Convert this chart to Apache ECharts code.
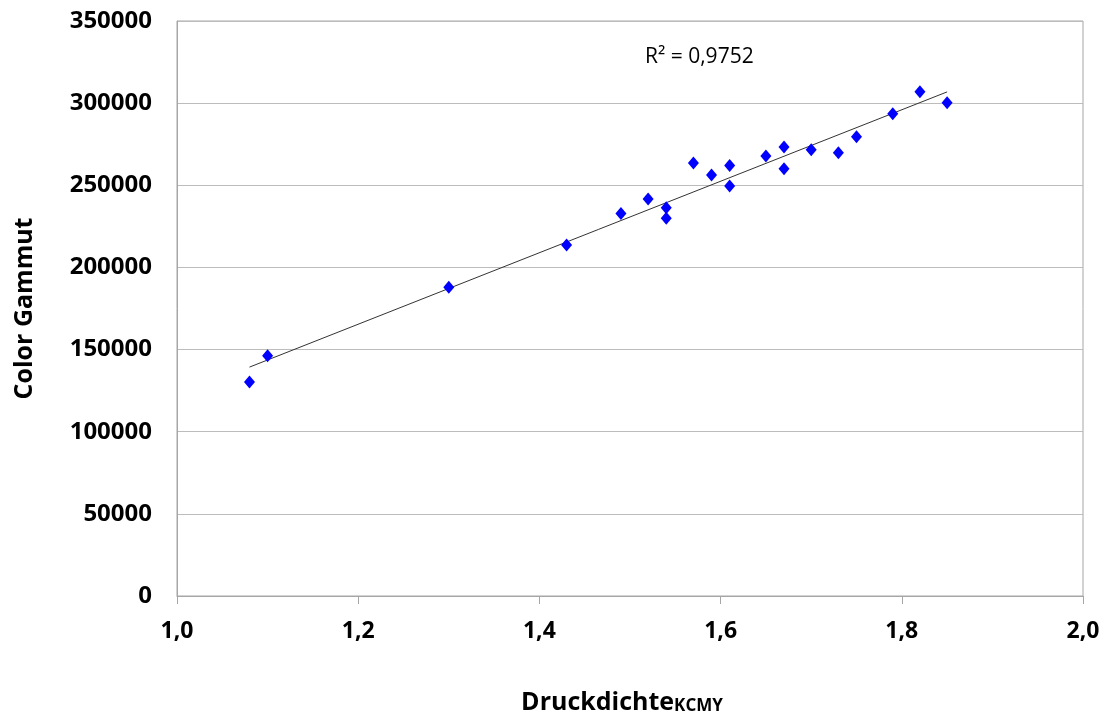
<!DOCTYPE html>
<html>
<head>
<meta charset="utf-8">
<script src="https://cdn.jsdelivr.net/npm/echarts@6/dist/echarts.min.js"></script>
<style>
html,body{margin:0;padding:0;background:#fff;}
#chart{width:1107px;height:720px;}
</style>
</head>
<body>
<div id="chart"></div>
<script>
// Data
const druckdichte = [1.08, 1.10, 1.30, 1.43, 1.49, 1.52, 1.54, 1.54, 1.57, 1.59, 1.61, 1.61, 1.65, 1.67, 1.67, 1.70, 1.73, 1.75, 1.79, 1.82, 1.85];
const colorGammut = [130200, 146300, 187900, 213700, 232900, 241700, 236400, 229900, 263500, 256200, 262100, 249600, 267800, 273300, 260100, 271600, 269800, 279500, 293500, 307000, 300200];
const xTicks = {min: 1.0, max: 2.0, interval: 0.2};
const yTicks = {min: 0, max: 350000, interval: 50000};
const r2Label = 'R² = 0,9752';
const xTitle = 'Druckdichte';
const xTitleSub = 'KCMY';
const yTitle = 'Color Gammut';

const points = druckdichte.map((x, i) => [x, colorGammut[i]]);

// Linear least-squares trend line from the data
const n = druckdichte.length;
const mx = druckdichte.reduce((a, b) => a + b, 0) / n;
const my = colorGammut.reduce((a, b) => a + b, 0) / n;
let sxy = 0, sxx = 0;
for (let i = 0; i < n; i++) {
  sxy += (druckdichte[i] - mx) * (colorGammut[i] - my);
  sxx += (druckdichte[i] - mx) * (druckdichte[i] - mx);
}
const slope = sxy / sxx;
const intercept = my - slope * mx;
const xMin = Math.min(...druckdichte), xMax = Math.max(...druckdichte);
const trend = [[xMin, intercept + slope * xMin], [xMax, intercept + slope * xMax]];

const FONT = '"Open Sans", "DejaVu Sans", sans-serif';

const chart = echarts.init(document.getElementById('chart'), null, {renderer: 'canvas'});
chart.setOption({
  animation: false,
  backgroundColor: '#ffffff',
  grid: {
    left: 177, right: 24, top: 21, bottom: 124,
    show: true, borderColor: '#a6a6a6', borderWidth: 1, backgroundColor: 'transparent'
  },
  xAxis: {
    type: 'value',
    min: xTicks.min, max: xTicks.max, interval: xTicks.interval,
    axisLine: {show: true, lineStyle: {color: '#a6a6a6', width: 1}},
    axisTick: {show: true, length: 8, lineStyle: {color: '#a6a6a6'}},
    splitLine: {show: false},
    axisLabel: {
      margin: 24, color: '#000', fontFamily: FONT, fontWeight: 'bold', fontSize: 23,
      formatter: v => v.toFixed(1).replace('.', ',')
    },
    name: '{a|' + xTitle + '}{b|' + xTitleSub + '}',
    nameLocation: 'middle',
    nameGap: 89,
    nameTextStyle: {
      rich: {
        a: {fontFamily: FONT, fontWeight: 'bold', fontSize: 25, color: '#000', lineHeight: 30, verticalAlign: 'bottom'},
        b: {fontFamily: FONT, fontWeight: 'bold', fontSize: 17, color: '#000', lineHeight: 30, verticalAlign: 'bottom', padding: [0, 16, 0, 0]}
      }
    }
  },
  yAxis: {
    type: 'value',
    min: yTicks.min, max: yTicks.max, interval: yTicks.interval,
    axisLine: {show: true, lineStyle: {color: '#a6a6a6', width: 1}},
    axisTick: {show: false},
    splitLine: {show: true, lineStyle: {color: '#bcbcbc', width: 1}},
    axisLabel: {
      margin: 25, color: '#000', fontFamily: FONT, fontWeight: 'bold', fontSize: 24,
      formatter: v => String(v)
    },
    name: yTitle,
    nameLocation: 'middle',
    nameGap: 140,
    nameRotate: 90,
    nameTextStyle: {fontFamily: FONT, fontWeight: 'bold', fontSize: 25, color: '#000'}
  },
  graphic: [{
    type: 'text',
    left: 645, top: 47,
    style: {text: r2Label, fontFamily: FONT, fontSize: 21, fill: '#000'}
  }],
  series: [
    {
      type: 'line',
      data: trend,
      showSymbol: false,
      symbol: 'none',
      lineStyle: {color: '#333333', width: 1},
      silent: true,
      z: 2
    },
    {
      type: 'scatter',
      data: points,
      symbol: 'diamond',
      symbolSize: [11, 13],
      itemStyle: {color: '#0000ff', opacity: 1},
      z: 3
    }
  ]
});
</script>
</body>
</html>
